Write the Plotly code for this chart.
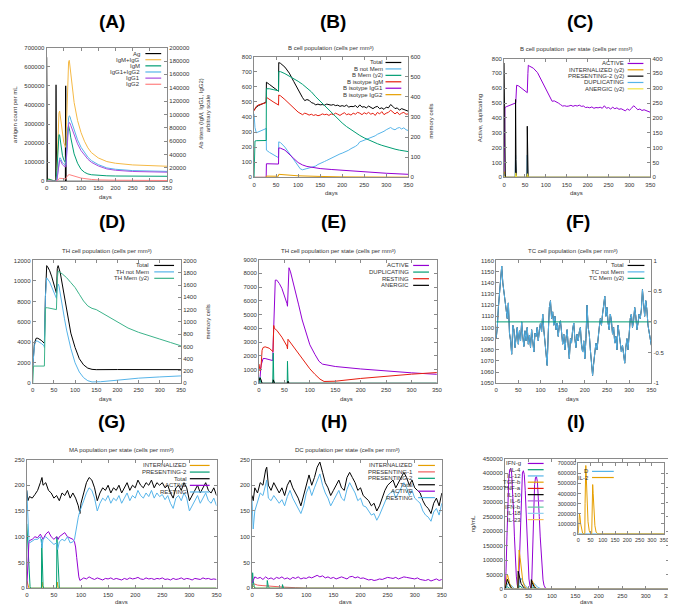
import plotly.graph_objects as go

# ---------------- DATA (day, value) ----------------
# (A) antigen & antibodies
A_Ag = [(0, 650000), (1, 150000), (2, 0), (27, 0), (27.5, 505000), (28.5, 0), (55, 0), (55.5, 500000), (56.5, 0), (350, 0)]
A_IgM_IgG = [(0, 0), (3, 2000), (6, 3500), (10, 2500), (15, 1500), (20, 1000), (27, 800), (28, 1500), (30, 18000), (32, 52000), (34, 85000), (36, 102000), (38, 105000), (40, 96000), (43, 80000), (46, 67000), (50, 58000), (55, 51000), (56, 51000), (58, 86000), (60, 131000), (62, 164000), (64, 179000), (66, 181000), (68, 173000), (70, 160000), (75, 138000), (80, 118000), (90, 91000), (100, 73000), (110, 60000), (120, 50000), (130, 43000), (150, 35000), (175, 29500), (200, 27000), (250, 24500), (300, 23500), (350, 22500)]
A_IgM = [(0, 0), (3, 2000), (6, 3500), (10, 2500), (15, 1500), (20, 1000), (27, 800), (28, 1500), (30, 16000), (32, 42000), (34, 62000), (36, 70000), (38, 69000), (40, 61000), (43, 49000), (46, 39000), (50, 32000), (55, 27000), (56, 27000), (58, 46000), (60, 66000), (62, 79000), (64, 83000), (66, 80000), (68, 74000), (70, 66000), (75, 52000), (80, 41000), (90, 27000), (100, 18000), (110, 13500), (120, 11000), (130, 9800), (150, 8800), (175, 8200), (200, 7900), (250, 7700), (300, 7600), (350, 7500)]
A_IgG1_IgG2 = [(0, 0), (28, 0), (30, 2000), (32, 10000), (34, 22000), (36, 31000), (38, 35000), (40, 35000), (43, 31000), (46, 28000), (50, 26000), (55, 24000), (56, 24000), (58, 40000), (60, 65000), (62, 85000), (64, 95000), (66, 98000), (68, 97000), (70, 93000), (75, 85000), (80, 76000), (90, 62000), (100, 51000), (110, 43000), (120, 36000), (130, 31000), (150, 25000), (175, 20000), (200, 18000), (250, 16000), (300, 15200), (350, 14800)]
A_IgG1 = [(0, 0), (28, 0), (30, 1800), (32, 9000), (34, 20000), (36, 28000), (38, 31500), (40, 31500), (43, 28000), (46, 25000), (50, 23000), (55, 21500), (56, 21500), (58, 36000), (60, 58000), (62, 76000), (64, 85000), (66, 88000), (68, 87000), (70, 84000), (75, 77000), (80, 69000), (90, 56000), (100, 46000), (110, 39000), (120, 33000), (130, 28500), (150, 23000), (175, 18500), (200, 16500), (250, 14700), (300, 14000), (350, 13600)]
A_IgG2 = [(0, 0), (28, 0), (32, 1500), (36, 4000), (38, 4500), (45, 4200), (55, 3500), (56, 3500), (58, 6000), (62, 9000), (66, 10000), (70, 9500), (80, 7500), (100, 4800), (130, 2800), (150, 2100), (200, 1600), (350, 1200)]

# (B) B cell population
B_Total = [(0, 445), (5, 465), (10, 475), (15, 480), (20, 490), (25, 495), (27.5, 500), (28, 630), (35, 615), (45, 595), (55, 575), (55.5, 570), (56, 760), (60, 755), (70, 730), (80, 690), (90, 635), (100, 578), (110, 528), (115, 508), (120, 515), (125, 510), (130, 495), (135, 490), (140, 480), (145, 485), (150, 480), (155, 482), (160, 478), (165, 485), (170, 480), (175, 478), (180, 482), (185, 475), (190, 478), (195, 470), (200, 475), (205, 470), (210, 478), (215, 465), (220, 470), (225, 468), (230, 475), (235, 462), (240, 480), (245, 465), (250, 468), (255, 460), (260, 472), (265, 462), (270, 455), (275, 465), (280, 470), (285, 455), (290, 460), (295, 450), (300, 465), (305, 460), (310, 482), (315, 470), (320, 455), (325, 460), (330, 445), (335, 455), (340, 450), (345, 440), (350, 438)]
B_notMem = [(0, 420), (2, 330), (5, 295), (10, 300), (15, 310), (20, 315), (25, 320), (27.5, 325), (28, 180), (35, 165), (45, 150), (55, 135), (55.5, 130), (56, 235), (60, 230), (70, 200), (80, 160), (90, 115), (100, 72), (105, 56), (110, 50), (115, 52), (120, 58), (125, 62), (130, 65), (135, 72), (140, 75), (145, 85), (150, 90), (155, 100), (160, 105), (165, 112), (170, 120), (175, 125), (180, 135), (185, 140), (190, 150), (195, 155), (200, 160), (205, 165), (210, 175), (215, 180), (220, 190), (225, 195), (230, 205), (235, 215), (240, 235), (245, 240), (250, 245), (255, 250), (260, 255), (265, 262), (270, 270), (275, 275), (280, 285), (285, 290), (290, 300), (295, 305), (300, 315), (305, 320), (310, 330), (315, 320), (320, 315), (325, 325), (330, 330), (335, 320), (340, 328), (345, 315), (350, 310)]
B_Mem = [(0, 0), (1, 100), (2, 180), (5, 182), (27.5, 183), (28, 440), (35, 440), (45, 435), (55, 430), (55.5, 430), (56, 525), (60, 525), (70, 515), (80, 503), (90, 490), (100, 477), (110, 462), (120, 445), (130, 425), (140, 400), (150, 378), (160, 355), (170, 332), (180, 310), (190, 290), (200, 270), (210, 252), (220, 236), (230, 222), (240, 208), (250, 196), (260, 185), (270, 176), (280, 167), (290, 159), (300, 152), (310, 146), (320, 140), (330, 135), (340, 131), (350, 128)]
B_IgM = [(0, 440), (5, 470), (10, 480), (15, 482), (20, 488), (25, 492), (27.5, 495), (28, 530), (35, 515), (45, 497), (55, 480), (55.5, 478), (56, 545), (60, 540), (70, 515), (80, 485), (90, 455), (100, 432), (110, 415), (115, 425), (120, 420), (125, 412), (130, 418), (135, 410), (140, 415), (145, 408), (150, 412), (155, 420), (160, 415), (165, 418), (170, 410), (175, 420), (180, 415), (185, 425), (190, 418), (195, 410), (200, 420), (205, 428), (210, 415), (215, 420), (220, 412), (225, 425), (230, 418), (235, 430), (240, 425), (245, 415), (250, 428), (255, 420), (260, 430), (265, 418), (270, 425), (275, 410), (280, 430), (285, 420), (290, 435), (295, 415), (300, 425), (305, 430), (310, 445), (315, 430), (320, 420), (325, 432), (330, 415), (335, 425), (340, 430), (345, 418), (350, 420)]
B_IgG1 = [(0, 0), (27.5, 0), (28, 90), (55, 88), (55.5, 88), (56, 195), (60, 193), (70, 180), (80, 155), (90, 125), (100, 98), (110, 82), (120, 72), (130, 66), (150, 58), (175, 52), (200, 46), (250, 36), (300, 27), (350, 20)]
B_IgG2 = [(0, 0), (27.5, 0), (28, 8), (55, 7), (56, 20), (60, 19), (80, 14), (100, 10), (150, 6), (200, 3), (350, 1)]

# (C) B cell population per state
C_Active = [(0, 0), (1, 350), (2, 470), (5, 475), (10, 480), (15, 485), (20, 488), (25, 495), (27, 500), (28, 505), (30, 620), (35, 615), (45, 595), (55, 575), (55.5, 570), (57, 700), (58, 755), (60, 750), (70, 735), (80, 705), (90, 650), (100, 585), (110, 530), (115, 512), (120, 515), (125, 510), (130, 500), (135, 490), (140, 480), (145, 482), (150, 478), (155, 480), (160, 485), (165, 478), (170, 484), (175, 480), (180, 486), (185, 478), (190, 480), (195, 470), (200, 472), (205, 468), (210, 474), (215, 465), (220, 470), (225, 468), (230, 472), (235, 465), (240, 482), (245, 465), (250, 470), (255, 460), (260, 472), (265, 462), (270, 468), (275, 458), (280, 462), (285, 455), (290, 448), (295, 460), (300, 452), (305, 465), (310, 482), (315, 470), (320, 455), (325, 460), (330, 450), (335, 455), (340, 448), (345, 440), (350, 438)]
C_Internalized = [(0, 20), (2, 5), (4, 0), (27, 0), (28, 12), (30, 0), (55, 0), (56, 10), (58, 0), (350, 0)]
C_Presenting2 = [(0, 385), (1, 200), (2, 40), (3, 0), (27, 0), (27.5, 262), (28.5, 60), (29.5, 0), (55, 0), (55.5, 172), (56.5, 40), (57.5, 0), (350, 0)]
C_Duplicating = [(0, 30), (1, 5), (2, 0), (26.5, 0), (27.5, 150), (28.5, 20), (29.5, 0), (54.5, 0), (55.5, 150), (56.5, 20), (57.5, 0), (350, 0)]
C_Anergic = [(0, 5), (3, 0), (27, 0), (28, 15), (30, 0), (55, 0), (56, 12), (58, 0), (350, 0)]

# (D) TH cell population
D_Total = [(0, 1500), (2, 2800), (4, 3900), (8, 4400), (12, 4400), (20, 4200), (27, 4000), (27.5, 3900), (30, 8500), (33, 11500), (35, 11400), (40, 11000), (45, 10400), (50, 9700), (55, 8900), (56, 8800), (58, 11200), (60, 11500), (65, 10800), (70, 9600), (75, 8300), (80, 7100), (90, 4900), (100, 3500), (110, 2400), (120, 1800), (130, 1480), (140, 1360), (150, 1330), (200, 1340), (250, 1350), (300, 1360), (350, 1330)]
D_notMem = [(0, 1500), (2, 2600), (4, 3700), (8, 4150), (12, 4100), (20, 3900), (27, 3650), (27.5, 3500), (30, 8500), (33, 10300), (35, 10200), (40, 9900), (45, 9400), (50, 8900), (55, 8400), (56, 8300), (58, 9400), (60, 9700), (62, 9500), (65, 8700), (70, 7500), (75, 6300), (80, 5200), (90, 3400), (100, 2000), (110, 1100), (120, 550), (130, 250), (140, 130), (150, 110), (160, 150), (200, 300), (250, 500), (300, 620), (350, 720)]
D_Mem = [(0, 0), (1, 150), (2, 280), (27.5, 280), (28, 900), (30, 1230), (35, 1230), (45, 1220), (55, 1200), (56, 1200), (58, 1700), (60, 1830), (70, 1780), (80, 1720), (90, 1640), (100, 1560), (110, 1450), (120, 1340), (130, 1260), (140, 1220), (150, 1200), (160, 1160), (175, 1090), (200, 990), (225, 900), (250, 830), (275, 770), (300, 720), (325, 665), (350, 610)]

# (E) TH cell population per state
E_Active = [(0, 0), (2, 400), (4, 1300), (8, 1800), (12, 1800), (20, 1720), (27, 1650), (28, 3000), (30, 6500), (32, 7500), (35, 7500), (40, 7250), (45, 6900), (50, 6400), (55, 5800), (56, 5600), (57, 7000), (59, 8400), (62, 8100), (70, 7000), (78, 5700), (85, 4600), (94, 3500), (100, 2800), (110, 2100), (118, 1600), (125, 1390), (135, 1300), (150, 1220), (200, 1040), (250, 880), (300, 760), (350, 650)]
E_Duplicating = [(0, 0), (1, 300), (2, 450), (3, 200), (4, 0), (27, 0), (28, 2200), (29, 300), (30, 0), (55.5, 0), (56, 1600), (57, 200), (58, 0), (350, 0)]
E_Resting = [(0, 1400), (1, 1000), (2, 900), (4, 1200), (6, 2400), (8, 2600), (12, 2650), (20, 2550), (27, 2350), (27.5, 2300), (29, 4200), (30, 4000), (35, 3850), (45, 3350), (55, 2700), (56, 2500), (57, 3200), (60, 3050), (70, 2550), (80, 2050), (90, 1550), (100, 1050), (110, 650), (120, 300), (128, 130), (140, 120), (150, 150), (200, 350), (250, 520), (300, 660), (350, 780)]
E_Anergic = [(0, 200), (1, 350), (2, 380), (4, 250), (6, 0), (27.5, 0), (28, 250), (30, 50), (32, 0), (56, 0), (57, 150), (59, 0), (350, 0)]

# (F) TC cell population
F_notMem = [(0, 1090), (2.5, 1100), (5, 1118), (7.5, 1130), (10, 1145), (12.5, 1155), (15, 1140), (17.5, 1133), (20, 1125), (22.5, 1118), (25, 1108), (27.5, 1122), (30, 1095), (32.5, 1088), (35, 1076), (37.5, 1102), (40, 1098), (42.5, 1082), (45, 1090), (47.5, 1100), (50, 1085), (52.5, 1097), (55, 1088), (57.5, 1105), (60, 1092), (62.5, 1083), (65, 1097), (67.5, 1088), (70, 1100), (72.5, 1085), (75, 1093), (77.5, 1082), (80, 1098), (82.5, 1090), (85, 1078), (87.5, 1095), (90, 1092), (92.5, 1100), (95, 1088), (97.5, 1098), (100, 1104), (102.5, 1096), (105, 1112), (107.5, 1098), (110, 1085), (112.5, 1075), (115, 1066), (117.5, 1095), (120, 1118), (122.5, 1124), (125, 1108), (127.5, 1114), (130, 1102), (132.5, 1110), (135, 1098), (137.5, 1104), (140, 1092), (142.5, 1102), (145, 1106), (147.5, 1096), (150, 1085), (152.5, 1094), (155, 1080), (157.5, 1090), (160, 1098), (162.5, 1084), (165, 1072), (167.5, 1090), (170, 1086), (172.5, 1098), (175, 1104), (177.5, 1090), (180, 1082), (182.5, 1094), (185, 1088), (187.5, 1096), (190, 1100), (192.5, 1084), (195, 1078), (197.5, 1088), (200, 1072), (202.5, 1090), (205, 1120), (207.5, 1100), (210, 1094), (212.5, 1080), (215, 1070), (217.5, 1057), (220, 1068), (222.5, 1076), (225, 1086), (227.5, 1080), (230, 1094), (232.5, 1100), (235, 1108), (237.5, 1102), (240, 1112), (242.5, 1120), (245, 1128), (247.5, 1110), (250, 1118), (252.5, 1104), (255, 1098), (257.5, 1112), (260, 1106), (262.5, 1094), (265, 1100), (267.5, 1086), (270, 1092), (272.5, 1080), (275, 1102), (277.5, 1094), (280, 1088), (282.5, 1078), (285, 1084), (287.5, 1074), (290, 1068), (292.5, 1082), (295, 1090), (297.5, 1080), (300, 1096), (302.5, 1108), (305, 1112), (307.5, 1100), (310, 1106), (312.5, 1118), (315, 1110), (317.5, 1098), (320, 1104), (322.5, 1112), (325, 1108), (327.5, 1116), (330, 1134), (332.5, 1120), (335, 1110), (337.5, 1124), (340, 1116), (342.5, 1102), (345, 1095), (347.5, 1090), (350, 1084)]
F_Mem = [(0, 0), (350, 0)]

# (G) MA population per state
G_Internalized = [(0, 15), (2, 5), (4, 0), (27, 0), (28, 12), (30, 0), (55, 0), (56, 12), (58, 0), (350, 0)]
G_Presenting2 = [(0, 125), (1, 100), (2, 70), (3, 45), (4, 25), (5, 10), (6, 3), (7, 0), (27, 0), (27.5, 95), (28, 60), (29, 25), (30, 5), (31, 0), (55, 0), (55.5, 100), (56.5, 70), (57.5, 40), (58.5, 15), (60, 0), (350, 0)]
G_Total = [(0, 190), (2, 170), (5, 178), (10, 175), (15, 182), (20, 190), (25, 205), (28, 215), (30, 200), (35, 205), (40, 190), (45, 185), (50, 175), (55, 180), (60, 170), (65, 185), (70, 180), (75, 190), (80, 175), (85, 185), (90, 175), (95, 160), (98, 145), (100, 165), (105, 185), (110, 205), (115, 215), (120, 210), (125, 195), (130, 170), (135, 185), (140, 195), (145, 190), (150, 200), (155, 185), (160, 195), (165, 190), (170, 200), (175, 185), (180, 195), (185, 205), (190, 190), (195, 200), (200, 195), (205, 210), (210, 200), (215, 195), (220, 205), (225, 200), (230, 210), (235, 195), (240, 205), (245, 200), (250, 205), (255, 195), (260, 200), (265, 185), (270, 175), (275, 195), (280, 200), (285, 190), (290, 205), (295, 195), (300, 170), (305, 180), (310, 190), (315, 200), (320, 185), (325, 195), (330, 205), (335, 190), (340, 185), (345, 195), (350, 180)]
G_Active = [(0, 0), (2, 60), (4, 92), (10, 95), (15, 100), (20, 98), (25, 105), (27.5, 100), (30, 95), (35, 105), (40, 110), (45, 100), (50, 95), (55, 100), (58, 95), (60, 100), (65, 105), (70, 108), (75, 100), (80, 98), (85, 95), (88, 90), (90, 80), (92, 60), (94, 40), (96, 22), (98, 15), (100, 17), (105, 20), (110, 18), (115, 22), (120, 19), (125, 17), (130, 20), (135, 18), (140, 16), (145, 19), (150, 18), (155, 20), (160, 17), (165, 19), (170, 18), (175, 16), (180, 19), (185, 17), (190, 20), (195, 18), (200, 19), (205, 21), (210, 18), (215, 17), (220, 20), (225, 18), (230, 19), (235, 17), (240, 19), (245, 18), (250, 20), (255, 17), (260, 18), (265, 16), (270, 19), (275, 17), (280, 18), (285, 20), (290, 17), (295, 19), (300, 18), (305, 16), (310, 19), (315, 18), (320, 17), (325, 20), (330, 18), (335, 19), (340, 17), (345, 18), (350, 17)]
G_Resting = [(0, 190), (2, 120), (4, 90), (5, 88), (10, 92), (15, 95), (20, 95), (25, 100), (27.5, 85), (28, 78), (30, 95), (35, 100), (40, 95), (45, 90), (50, 85), (55, 88), (57, 75), (60, 90), (65, 95), (70, 92), (75, 100), (80, 88), (85, 90), (88, 95), (90, 110), (93, 130), (95, 138), (98, 150), (100, 155), (105, 170), (110, 185), (115, 195), (120, 190), (125, 175), (130, 150), (135, 165), (140, 175), (145, 170), (150, 180), (155, 165), (160, 175), (165, 170), (170, 180), (175, 165), (180, 175), (185, 185), (190, 170), (195, 180), (200, 175), (205, 190), (210, 180), (215, 175), (220, 185), (225, 178), (230, 190), (235, 175), (240, 185), (245, 178), (250, 182), (255, 172), (260, 180), (265, 165), (270, 155), (275, 175), (280, 180), (285, 170), (290, 185), (295, 175), (300, 150), (305, 160), (310, 170), (315, 180), (320, 165), (325, 175), (330, 185), (335, 170), (340, 165), (345, 175), (350, 160)]

# (H) DC population per state
H_Internalized = [(0, 0), (1, 5), (3, 3), (6, 0), (350, 0)]
H_Presenting1 = [(0, 0), (1, 8), (5, 8), (10, 6), (20, 5), (30, 4), (40, 3), (50, 3), (60, 2), (80, 1), (100, 0), (350, 0)]
H_Presenting2 = [(0, 0), (1, 30), (2, 15), (4, 3), (6, 0), (27.5, 0), (28, 15), (30, 3), (32, 0), (55.5, 0), (56, 7), (58, 0), (350, 0)]
H_Total = [(0, 180), (2, 170), (5, 195), (10, 185), (15, 205), (20, 200), (25, 230), (27, 235), (30, 200), (35, 190), (40, 205), (45, 195), (50, 185), (55, 195), (60, 180), (65, 200), (70, 210), (75, 195), (80, 185), (85, 175), (90, 160), (95, 180), (100, 205), (105, 220), (110, 200), (115, 215), (120, 235), (125, 245), (130, 225), (135, 205), (140, 195), (145, 180), (150, 190), (155, 200), (160, 210), (165, 195), (170, 190), (175, 215), (180, 225), (185, 215), (190, 205), (195, 190), (200, 195), (205, 180), (210, 175), (215, 170), (220, 160), (225, 165), (230, 150), (235, 160), (240, 175), (245, 190), (250, 200), (255, 205), (260, 210), (265, 195), (270, 205), (275, 215), (280, 225), (285, 215), (290, 200), (295, 210), (300, 195), (305, 190), (310, 185), (315, 170), (320, 160), (325, 155), (330, 145), (335, 165), (340, 175), (345, 160), (350, 185)]
H_Active = [(0, 10), (3, 18), (5, 22), (10, 19), (15, 21), (20, 17), (25, 22), (30, 18), (35, 20), (40, 17), (45, 21), (50, 19), (55, 22), (60, 18), (65, 20), (70, 17), (75, 21), (80, 19), (85, 22), (90, 18), (95, 20), (100, 19), (105, 22), (110, 20), (115, 23), (120, 25), (125, 22), (130, 24), (135, 20), (140, 22), (145, 19), (150, 21), (155, 18), (160, 20), (165, 22), (170, 20), (175, 18), (180, 22), (185, 23), (190, 20), (195, 22), (200, 19), (205, 20), (210, 18), (215, 16), (220, 17), (225, 15), (230, 16), (235, 18), (240, 17), (245, 19), (250, 21), (255, 20), (260, 19), (265, 21), (270, 18), (275, 20), (280, 22), (285, 21), (290, 20), (295, 19), (300, 18), (305, 20), (310, 17), (315, 16), (320, 15), (325, 17), (330, 14), (335, 16), (340, 18), (345, 15), (350, 17)]
H_Resting = [(0, 170), (2, 115), (5, 150), (10, 170), (15, 185), (20, 180), (25, 205), (27, 210), (30, 175), (35, 170), (40, 180), (45, 172), (50, 165), (55, 172), (60, 160), (65, 178), (70, 190), (75, 175), (80, 165), (85, 155), (90, 145), (95, 160), (100, 185), (105, 198), (110, 180), (115, 195), (120, 210), (125, 222), (130, 200), (135, 185), (140, 175), (145, 160), (150, 170), (155, 180), (160, 190), (165, 175), (170, 170), (175, 192), (180, 205), (185, 195), (190, 185), (195, 170), (200, 175), (205, 160), (210, 158), (215, 150), (220, 142), (225, 145), (230, 132), (235, 142), (240, 155), (245, 170), (250, 180), (255, 185), (260, 190), (265, 175), (270, 185), (275, 195), (280, 205), (285, 195), (290, 180), (295, 190), (300, 175), (305, 170), (310, 165), (315, 150), (320, 142), (325, 138), (330, 130), (335, 148), (340, 155), (345, 142), (350, 165)]

# (I) cytokines
I_IFNg = [(0, 0), (2, 60000), (4, 180000), (6, 310000), (8, 385000), (10, 412000), (12, 416000), (14, 400000), (16, 350000), (18, 270000), (20, 180000), (22, 100000), (24, 45000), (26, 15000), (28, 3000), (29, 20000), (31, 120000), (33, 260000), (35, 360000), (37, 400000), (39, 408000), (41, 395000), (43, 340000), (45, 250000), (47, 160000), (49, 85000), (51, 35000), (53, 12000), (55, 3000), (57, 30000), (59, 150000), (61, 290000), (63, 360000), (65, 385000), (67, 387000), (69, 370000), (71, 320000), (73, 250000), (75, 180000), (77, 115000), (79, 65000), (81, 32000), (83, 14000), (86, 4000), (90, 0), (350, 0)]
I_IL4 = [(0, 0), (5, 8000), (12, 0), (28, 0), (31, 12000), (40, 0), (56, 0), (59, 6000), (68, 0), (350, 0)]
I_IL12 = [(0, 0), (4, 15000), (7, 22000), (10, 18000), (15, 8000), (20, 2000), (26, 0), (28, 5000), (31, 30000), (34, 38000), (37, 30000), (42, 14000), (48, 4000), (55, 500), (56, 3000), (59, 15000), (62, 20000), (65, 15000), (70, 6000), (78, 1000), (85, 0), (350, 0)]
I_TGFb = [(0, 0), (2, 25000), (4, 45000), (5, 51000), (7, 40000), (10, 18000), (14, 5000), (18, 1000), (27, 0), (28, 30000), (29, 90000), (30, 135000), (32, 110000), (35, 60000), (38, 25000), (42, 8000), (48, 1000), (55, 0), (56, 15000), (57, 27000), (58, 29000), (60, 22000), (63, 10000), (67, 3000), (72, 0), (350, 0)]
I_TNFa = [(0, 0), (350, 0)]
I_IL10 = [(0, 0), (3, 25000), (5, 34000), (8, 20000), (12, 6000), (18, 0), (27.5, 0), (28, 62000), (30, 45000), (34, 20000), (40, 5000), (46, 0), (55.5, 0), (56, 33000), (58, 22000), (62, 8000), (68, 1000), (72, 0), (350, 0)]
I_IL6 = [(0, 0), (350, 0)]
I_IFNb = [(0, 0), (350, 0)]
I_IL18 = [(0, 0), (350, 0)]
I_IL23 = [(0, 0), (350, 0)]
I_D = [(0, 0), (350, 0)]
I_IL2 = [(0, 0), (3, 120000), (5, 195000), (7, 180000), (10, 100000), (14, 30000), (18, 5000), (24, 0), (27, 0), (28, 300000), (30, 660000), (31, 680000), (33, 560000), (36, 320000), (40, 120000), (45, 30000), (50, 5000), (55, 0), (56, 200000), (58, 470000), (59, 490000), (61, 400000), (64, 220000), (68, 80000), (73, 15000), (80, 0), (350, 0)]

DAY_TICKS = [0, 50, 100, 150, 200, 250, 300, 350]

# ---------------- STYLE ----------------
W, H = 676, 604
FONT = "Liberation Sans"
TXT = "#333333"
FRAME = "#8a8a8a"
PURPLE = "#9400d3"
GREEN = "#009e73"
BLUE = "#56b4e9"
ORANGE = "#e69f00"
YELLOW = "#f0e442"
RED = "#e51e10"
BLACK = "#000000"


def px(x):
    return x / W


def py(y):
    return 1 - y / H


# panel boxes: left, right, top, bottom (px)
BOX = {
    "A": (37, 159, 37, 172), "B": (247, 403, 46, 168), "C": (500, 648, 48, 168),
    "D": (23, 173, 252, 376), "E": (252, 432, 251, 376), "F": (492, 649, 252, 376),
    "G": (17, 209, 453, 583), "H": (245, 437, 453, 583), "I": (501, 667, 452, 584),
    "Iin": (575, 662, 457, 528),
}
AX = {
    "A": ("x", "y", "y2"), "B": ("x2", "y3", "y4"), "C": ("x3", "y5", "y6"),
    "D": ("x4", "y7", "y8"), "E": ("x5", "y9", None), "F": ("x6", "y10", "y11"),
    "G": ("x7", "y12", None), "H": ("x8", "y13", None), "I": ("x9", "y14", None),
    "Iin": ("x10", "y15", None),
}
YR = {
    "A": ((0, 700000), 100000, (0, 200000), 20000), "B": ((0, 800), 100, (0, 600), 100),
    "C": ((0, 800), 100, (0, 400), 50), "D": ((0, 12000), 2000, (0, 2000), 200),
    "E": ((0, 9000), 1000, None, None), "F": ((1050, 1160), 10, (-1, 1), None),
    "G": ((0, 250), 50, None, None), "H": ((0, 250), 50, None, None),
    "I": ((0, 450000), 50000, None, None), "Iin": ((0, 700000), 100000, None, None),
}


def lk(a):
    return a[0] + "axis" + a[1:]


fig = go.Figure()
layout = dict(width=W, height=H, margin=dict(l=0, r=0, t=0, b=0),
              paper_bgcolor="white", plot_bgcolor="white", showlegend=False,
              font=dict(family=FONT, size=6, color=TXT))

for p, (l, r, t, b) in BOX.items():
    xa, ya, y2a = AX[p]
    yr, ydt, y2r, y2dt = YR[p]
    tf = dict(family=FONT, size=5.5 if p == "Iin" else 6, color=TXT)
    layout[lk(xa)] = dict(domain=[px(l), px(r)], range=[0, 350], anchor=ya,
                          tickvals=DAY_TICKS, ticks="inside", ticklen=3, tickcolor=FRAME,
                          showline=True, linecolor=FRAME, linewidth=1, mirror="ticks",
                          showgrid=False, zeroline=False, tickfont=tf, tickangle=0,
                          ticklabelstandoff=1)
    layout[lk(ya)] = dict(domain=[py(b), py(t)], range=list(yr), dtick=ydt, tick0=yr[0], anchor=xa,
                          ticks="inside", ticklen=3, tickcolor=FRAME, tickformat="d",
                          showline=True, linecolor=FRAME, linewidth=1,
                          mirror=False if y2a else "ticks",
                          showgrid=False, zeroline=False, tickfont=tf)
    if y2a:
        y2 = dict(overlaying=ya, side="right", anchor=xa, range=list(y2r),
                  ticks="inside", ticklen=3, tickcolor=FRAME, showline=True, linecolor=FRAME,
                  linewidth=1, showgrid=False, zeroline=False, tickfont=tf)
        if y2dt:
            y2.update(dtick=y2dt, tick0=0, tickformat="d")
        else:
            y2.update(tickvals=[-1, -0.5, 0, 0.5, 1], ticktext=["-1", "-0.5", "0", "0.5", "1"])
        layout[lk(y2a)] = y2


def add(series, color, xa, ya, width=1):
    fig.add_trace(go.Scatter(x=[d for d, _ in series], y=[v for _, v in series], mode="lines",
                             line=dict(color=color, width=width), xaxis=xa, yaxis=ya,
                             hoverinfo="skip"))


# A
add(A_Ag, BLACK, "x", "y", 1.3)
add(A_IgM_IgG, "#f5b945", "x", "y2")
add(A_IgM, GREEN, "x", "y2")
add(A_IgG1_IgG2, BLUE, "x", "y2")
add(A_IgG1, "#a84ee0", "x", "y2")
add(A_IgG2, "#ff8080", "x", "y2")
# B
add(B_Total, BLACK, "x2", "y3")
add(B_notMem, BLUE, "x2", "y3")
add(B_Mem, GREEN, "x2", "y4")
add(B_IgM, RED, "x2", "y3")
add(B_IgG1, PURPLE, "x2", "y3")
add(B_IgG2, ORANGE, "x2", "y3")
# C
add(C_Active, PURPLE, "x3", "y5")
add(C_Internalized, ORANGE, "x3", "y6")
add(C_Presenting2, BLACK, "x3", "y6")
add(C_Duplicating, BLUE, "x3", "y5")
add(C_Anergic, YELLOW, "x3", "y6")
# D
add(D_Total, BLACK, "x4", "y7")
add(D_notMem, BLUE, "x4", "y7")
add(D_Mem, "#3cb38a", "x4", "y8")
# E
add(E_Active, PURPLE, "x5", "y9")
add(E_Duplicating, GREEN, "x5", "y9")
add(E_Resting, RED, "x5", "y9")
add(E_Anergic, BLACK, "x5", "y9")
# F
add(F_notMem, BLACK, "x6", "y10")
add(F_notMem, BLUE, "x6", "y10")
add(F_Mem, GREEN, "x6", "y11")
# G
add(G_Internalized, ORANGE, "x7", "y12")
add(G_Presenting2, GREEN, "x7", "y12")
add(G_Total, BLACK, "x7", "y12")
add(G_Active, PURPLE, "x7", "y12")
add(G_Resting, BLUE, "x7", "y12")
# H
add(H_Internalized, ORANGE, "x8", "y13")
add(H_Presenting1, "#f06060", "x8", "y13")
add(H_Presenting2, GREEN, "x8", "y13")
add(H_Total, BLACK, "x8", "y13")
add(H_Active, PURPLE, "x8", "y13")
add(H_Resting, BLUE, "x8", "y13")
# I
I_COLORS = [PURPLE, GREEN, BLUE, ORANGE, RED, BLACK, "#b060e0", "#60c8a0", "#90d0f0", "#f8c060"]
I_SERIES = [I_IFNg, I_IL4, I_IL12, I_TGFb, I_TNFa, I_IL10, I_IL6, I_IFNb, I_IL18, I_IL23]
I_NAMES = ["IFN-g", "IL-4", "IL-12", "TGF-b", "TNF-a", "IL-10", "IL-6", "IFN-b", "IL-18", "IL-23"]
for s, c in zip(I_SERIES, I_COLORS):
    add(s, c, "x9", "y14")
add(I_D, BLUE, "x10", "y15")
add(I_IL2, ORANGE, "x10", "y15")

# ---------------- annotations ----------------
ann = []
shapes = []


def text(s, x, y, size=6, angle=0, xanchor="center", bold=False):
    ann.append(dict(text=("<b>%s</b>" % s) if bold else s, x=px(x), y=py(y), xref="paper", yref="paper",
                    showarrow=False, textangle=angle, xanchor=xanchor, yanchor="middle",
                    borderpad=0, font=dict(family=FONT, size=size, color="#000000" if bold else TXT)))


for lab, x, y in [("(A)", 103, 11), ("(B)", 327, 11), ("(C)", 577, 11),
                  ("(D)", 103, 213), ("(E)", 327, 213), ("(F)", 575, 213),
                  ("(G)", 103, 415), ("(H)", 328, 415), ("(I)", 573, 415)]:
    text(lab, x, y, size=19, bold=True)

# titles
text("B cell population (cells per mm³)", 325, 37)
text("B cell population  per state (cells per mm³)", 573, 38)
text("TH cell population (cells per mm³)", 98, 242)
text("TH cell population per state (cells per mm³)", 332, 242)
text("TC cell population (cells per mm³)", 570, 242)
text("MA population per state (cells per mm³)", 113, 443)
text("DC population per state (cells per mm³)", 342, 443)

# axis labels
for x, y in [(97, 188), (325, 184), (573, 184), (97, 392), (341, 392), (569, 392), (113, 597), (340, 597), (583, 597)]:
    text("days", x, y)
text("antigen count per mL", 5, 104, angle=-90)
text("Ab titers (IgM, IgG1, IgG2)<br>arbitrary scale", 197, 104, angle=-90)
text("memory cells", 426, 111, angle=-90)
text("Active, duplicating", 476, 108, angle=-90)
text("Internalized, presenting, anergic", 670, 107, angle=-90)
text("memory cells", 200, 314, angle=-90)
text("memory cells", 669, 316, angle=-90)
text("ng/mL", 468, 518, angle=-90)


def legend(entries, tx, ty, dy, lx0, lx1):
    for i, (name, color) in enumerate(entries):
        y = ty + i * dy
        text(name, tx, y, xanchor="right")
        shapes.append(dict(type="line", xref="paper", yref="paper", x0=px(lx0), x1=px(lx1),
                           y0=py(y), y1=py(y), line=dict(color=color, width=1.2)))


legend([("Ag", BLACK), ("IgM+IgG", "#f5b945"), ("IgM", GREEN), ("IgG1+IgG2", BLUE),
        ("IgG1", "#a84ee0"), ("IgG2", "#ff8080")], 133, 43, 6.2, 137, 153)
legend([("Total", BLACK), ("B not Mem", BLUE), ("B Mem (y2)", GREEN), ("B isotype IgM", RED),
        ("B isotype IgG1", PURPLE), ("B isotype IgG2", ORANGE)], 378, 52, 6.5, 380, 396)
legend([("ACTIVE", PURPLE), ("INTERNALIZED (y2)", ORANGE), ("PRESENTING-2 (y2)", BLACK),
        ("DUPLICATING", BLUE), ("ANERGIC (y2)", YELLOW)], 622, 53, 6.4, 625, 641)
legend([("Total", BLACK), ("TH not Mem", BLUE), ("TH Mem (y2)", "#3cb38a")], 142, 257, 6.5, 146, 166)
legend([("ACTIVE", PURPLE), ("DUPLICATING", GREEN), ("RESTING", RED), ("ANERGIC", BLACK)],
       405, 257, 6.7, 408, 424)
legend([("Total", BLACK), ("TC not Mem", BLUE), ("TC Mem (y2)", GREEN)], 622, 257, 6.5, 625, 642)
legend([("INTERNALIZED", ORANGE), ("PRESENTING-2", GREEN), ("Total", BLACK), ("ACTIVE", PURPLE),
        ("RESTING", BLUE)], 180, 459, 6.7, 182, 202)
legend([("INTERNALIZED", ORANGE), ("PRESENTING-1", "#f06060"), ("PRESENTING-2", GREEN),
        ("Total", BLACK), ("ACTIVE", PURPLE), ("RESTING", BLUE)], 409, 459, 6.5, 413, 430)
legend(list(zip(I_NAMES, I_COLORS)), 518, 457, 6.3, 524, 540)
legend([("D", BLUE), ("IL-2", ORANGE)], 587, 465, 6.2, 589, 611)

layout["annotations"] = ann
layout["shapes"] = shapes
fig.update_layout(**layout)
fig.write_html("out.html")
